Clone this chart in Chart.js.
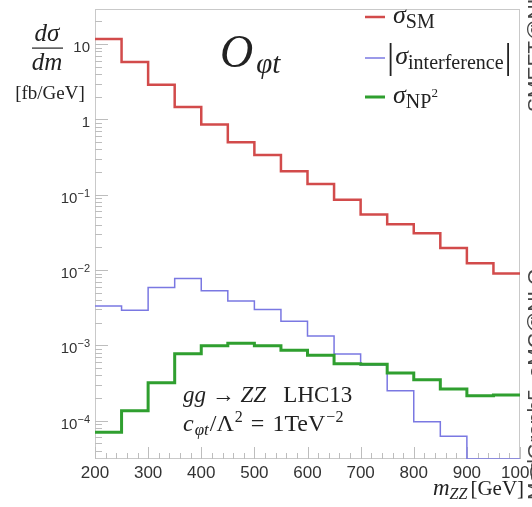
<!DOCTYPE html>
<html>
<head>
<meta charset="utf-8">
<script src="https://cdn.jsdelivr.net/npm/chart.js@4.4.1/dist/chart.umd.min.js"></script>
<style>
  html, body { margin: 0; padding: 0; background: #fff; }
</style>
</head>
<body>
<canvas id="chart" width="532" height="507"></canvas>
<script>
// bins of m_ZZ (GeV), left edges; last bin ends at 1000
const binLow = [200, 250, 300, 350, 400, 450, 500, 550, 600, 650, 700, 750, 800, 850, 900, 950];
const binMax = 1000;

// dsigma/dm [fb/GeV]
const sigmaSM = [11.7, 5.8, 2.9, 1.46, 0.857, 0.50, 0.338, 0.205, 0.139, 0.0858, 0.0546, 0.0407, 0.0309, 0.0197, 0.0123, 0.0090];
const sigmaInterf = [3.34e-3, 2.93e-3, 5.88e-3, 7.76e-3, 5.3e-3, 3.9e-3, 3.0e-3, 2.09e-3, 1.33e-3, 7.7e-4, 5.5e-4, 2.5e-4, 9.7e-5, 6.2e-5, 3.1e-5, 3.1e-5];
const sigmaNP2 = [7.0e-5, 1.36e-4, 3.18e-4, 7.74e-4, 9.9e-4, 1.07e-3, 9.9e-4, 8.6e-4, 7.4e-4, 5.7e-4, 5.6e-4, 4.3e-4, 3.5e-4, 2.64e-4, 2.15e-4, 2.2e-4];

const xTicks = [200, 300, 400, 500, 600, 700, 800, 900, 1000];
const yExponents = [-4, -3, -2, -1, 0, 1];
const yMin = 3.1e-5, yMax = 29.3;

const RED = '#d24b4b', BLUE = '#7a78e2', GREEN = '#2f9f2f';
const SERIF = '"Liberation Serif", "DejaVu Serif", serif';
const SANS = '"Liberation Sans", Arial, sans-serif';

function steps(vals) {
  const pts = binLow.map((x, i) => ({ x: x, y: vals[i] }));
  pts.push({ x: binMax, y: vals[vals.length - 1] });
  return pts;
}

// draw a run of text pieces (for sub/superscripts)
function rich(ctx, x, y, parts) {
  for (const p of parts) {
    ctx.font = (p.it ? 'italic ' : '') + p.size + 'px ' + (p.fam || SERIF);
    ctx.fillText(p.t, x, y + (p.dy || 0));
    x += ctx.measureText(p.t).width + (p.gap || 0);
  }
  return x;
}

const decor = {
  id: 'decor',
  beforeDatasetsDraw(chart) {
    const { ctx, chartArea: a, scales: { x, y } } = chart;
    ctx.save();
    ctx.strokeStyle = '#c9c9c9';
    ctx.lineWidth = 1;
    ctx.strokeRect(a.left + 0.5, a.top + 0.5, a.right - a.left - 1, a.bottom - a.top - 1);

    ctx.strokeStyle = '#bdbdbd';
    ctx.beginPath();
    // y ticks
    for (let k = -5; k <= 1; k++) {
      for (let m = 1; m <= 9; m++) {
        const v = m * Math.pow(10, k);
        if (v < yMin || v > yMax) continue;
        const py = Math.round(y.getPixelForValue(v)) + 0.5;
        const len = m === 1 ? 13 : 7;
        ctx.moveTo(a.left, py);
        ctx.lineTo(a.left + len, py);
      }
    }
    // x ticks
    for (let v = 200; v <= 1000; v += 20) {
      const px = Math.round(x.getPixelForValue(v)) + 0.5;
      const len = v % 100 === 0 ? 12 : 6;
      ctx.moveTo(px, a.bottom);
      ctx.lineTo(px, a.bottom - len);
    }
    ctx.stroke();
    ctx.restore();
  },
  afterDraw(chart) {
    const { ctx, scales: { y } } = chart;
    ctx.save();
    ctx.textBaseline = 'alphabetic';

    // y tick labels
    ctx.fillStyle = '#333';
    for (const k of yExponents) {
      const py = y.getPixelForValue(Math.pow(10, k));
      const right = 90;
      if (k === 0 || k === 1) {
        ctx.font = '15px ' + SANS;
        ctx.textAlign = 'right';
        ctx.fillText(k === 0 ? '1' : '10', right, py + 8);
      } else {
        const ex = '\u2212' + (-k);
        ctx.font = '11px ' + SANS;
        const ew = ctx.measureText(ex).width;
        ctx.textAlign = 'left';
        ctx.fillText(ex, right - ew, py + 2);
        ctx.font = '15px ' + SANS;
        ctx.textAlign = 'right';
        ctx.fillText('10', right - ew, py + 8);
      }
    }

    // y axis title
    ctx.fillStyle = '#222';
    ctx.textAlign = 'center';
    ctx.font = 'italic 25px ' + SERIF;
    ctx.fillText('d\u03c3', 47, 41);
    ctx.fillText('dm', 47, 70);
    ctx.fillRect(32, 47.5, 31, 1.2);
    ctx.font = '19px ' + SERIF;
    ctx.fillText('[fb/GeV]', 50, 99);

    ctx.textAlign = 'left';
    // operator label
    rich(ctx, 220, 67, [
      { t: 'O', size: 46, it: true, gap: 3 },
      { t: '\u03c6t', size: 29, it: true, dy: 6 }
    ]);

    // legend
    const rows = [
      { c: RED, w: 2.5, y: 17 },
      { c: BLUE, w: 1.5, y: 58 },
      { c: GREEN, w: 3, y: 97 }
    ];
    for (const r of rows) {
      ctx.strokeStyle = r.c;
      ctx.lineWidth = r.w;
      ctx.beginPath();
      ctx.moveTo(365, r.y);
      ctx.lineTo(385, r.y);
      ctx.stroke();
    }
    ctx.fillStyle = '#222';
    rich(ctx, 393, 23, [
      { t: '\u03c3', size: 26, it: true },
      { t: 'SM', size: 20, dy: 5 }
    ]);
    rich(ctx, 387, 68, [
      { t: '|', size: 36, gap: 1 },
      { t: '\u03c3', size: 26, it: true, dy: -4 },
      { t: 'interference', size: 20, dy: 1, gap: 1 },
      { t: '|', size: 36 }
    ]);
    let gx = rich(ctx, 393, 103, [
      { t: '\u03c3', size: 26, it: true },
      { t: 'NP', size: 20, dy: 5 }
    ]);
    rich(ctx, gx, 97, [{ t: '2', size: 13 }]);

    // process text
    rich(ctx, 183, 402, [
      { t: 'gg', size: 23, it: true },
      { t: ' \u2192 ', size: 23 },
      { t: 'ZZ', size: 23, it: true },
      { t: '   LHC13', size: 23 }
    ]);
    rich(ctx, 183, 431, [
      { t: 'c', size: 24, it: true, gap: 1 },
      { t: '\u03c6t', size: 17, it: true, dy: 4, gap: 1 },
      { t: '/\u039b', size: 24, gap: 1 },
      { t: '2', size: 16, dy: -9, gap: 8 },
      { t: '=', size: 24, gap: 8 },
      { t: '1TeV', size: 24, gap: 1 },
      { t: '\u22122', size: 16, dy: -9 }
    ]);

    // x axis title
    rich(ctx, 433, 495, [
      { t: 'm', size: 23, it: true },
      { t: 'ZZ', size: 16, it: true, dy: 4, gap: 3 },
      { t: '[GeV]', size: 21 }
    ]);

    // generator labels on right edge (mostly cut off)
    ctx.fillStyle = '#444';
    ctx.font = '21px ' + SANS;
    ctx.translate(542, 0);
    ctx.rotate(-Math.PI / 2);
    ctx.textAlign = 'left';
    ctx.fillText('SMEFT@NLO', -112, 0);
    ctx.fillText('MadGraph5_aMC@NLO', -500, 0);
    ctx.restore();
  }
};

new Chart(document.getElementById('chart'), {
  type: 'line',
  data: {
    datasets: [
      { label: 'sigma_SM', data: steps(sigmaSM), borderColor: RED, borderWidth: 2.5, order: 2 },
      { label: '|sigma_interference|', data: steps(sigmaInterf), borderColor: BLUE, borderWidth: 1.5, order: 1 },
      { label: 'sigma_NP2', data: steps(sigmaNP2), borderColor: GREEN, borderWidth: 3, order: 0 }
    ].map(d => Object.assign(d, { stepped: 'before', pointRadius: 0, fill: false, borderJoinStyle: 'miter' }))
  },
  options: {
    responsive: false,
    animation: false,
    devicePixelRatio: 1,
    layout: { padding: { top: 9, right: 12, left: 0, bottom: 0 } },
    plugins: { legend: { display: false }, tooltip: { enabled: false } },
    scales: {
      x: {
        type: 'linear',
        min: 200,
        max: binMax,
        grid: { display: false, drawTicks: false },
        border: { display: false },
        afterBuildTicks: s => { s.ticks = xTicks.map(v => ({ value: v })); },
        afterFit: s => { s.height = 48; s.paddingLeft = 0; s.paddingRight = 0; },
        ticks: {
          autoSkip: false,
          maxRotation: 0,
          padding: 4,
          color: '#333',
          font: { family: 'Liberation Sans', size: 17 },
          callback: v => String(v)
        }
      },
      y: {
        type: 'logarithmic',
        min: yMin,
        max: yMax,
        grid: { display: false },
        border: { display: false },
        ticks: { display: false },
        afterFit: s => { s.width = 95; }
      }
    }
  },
  plugins: [decor]
});
</script>
</body>
</html>
